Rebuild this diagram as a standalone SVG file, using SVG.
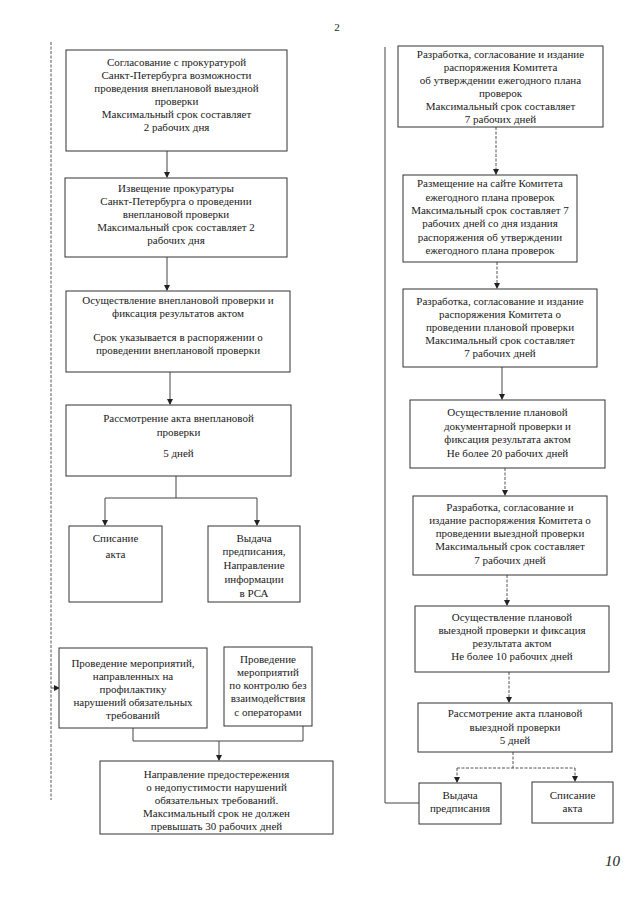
<svg xmlns="http://www.w3.org/2000/svg" width="640" height="905" viewBox="0 0 640 905">
<style>
.box{fill:#fff;stroke:#333;stroke-width:1}
.t{font-family:"Liberation Serif","Times New Roman",serif;font-size:11px;fill:#1a1a1a;text-anchor:middle}
.c{fill:none;stroke:#444;stroke-width:1}
.d{fill:none;stroke:#555;stroke-width:1;stroke-dasharray:3,1.5}
</style>
<defs>
<marker id="ah" markerWidth="6" markerHeight="6" refX="5" refY="3" orient="auto" markerUnits="userSpaceOnUse">
<path d="M0,0 L6,3 L0,6 Z" fill="#222"/>
</marker>
</defs>
<rect width="640" height="905" fill="#fff"/>
<text x="337" y="31" class="t" font-size="13">2</text>
<text x="605" y="866" style="font-family:'Liberation Serif',serif;font-size:15px;font-style:italic;fill:#222">10</text>

<g id="connectors">
<line class="c" x1="167" y1="151" x2="167" y2="177" marker-end="url(#ah)"/>
<line class="c" x1="167" y1="257" x2="167" y2="290" marker-end="url(#ah)"/>
<line class="c" x1="170" y1="372" x2="170" y2="404" marker-end="url(#ah)"/>
<polyline class="c" points="176,476 176,498"/>
<polyline class="c" points="105,498 257,498"/>
<line class="c" x1="105" y1="498" x2="105" y2="525" marker-end="url(#ah)"/>
<line class="c" x1="257" y1="498" x2="257" y2="525" marker-end="url(#ah)"/>
<polyline class="d" points="51,42 51,800"/>
<line class="d" x1="51" y1="688" x2="59" y2="688" marker-end="url(#ah)"/>
<polyline class="c" points="133,728 133,741 303,741 303,726"/>
<line class="c" x1="219" y1="741" x2="219" y2="760" marker-end="url(#ah)"/>
<polyline class="c" points="385,47 385,803 419,803"/>
<line class="d" x1="496" y1="127" x2="496" y2="174" marker-end="url(#ah)"/>
<line class="d" x1="497" y1="262" x2="497" y2="288" marker-end="url(#ah)"/>
<line class="c" x1="502" y1="367" x2="502" y2="399" marker-end="url(#ah)"/>
<line class="d" x1="505" y1="468" x2="505" y2="495" marker-end="url(#ah)"/>
<line class="d" x1="507" y1="575" x2="507" y2="605" marker-end="url(#ah)"/>
<line class="d" x1="509" y1="672" x2="509" y2="702" marker-end="url(#ah)"/>
<line class="d" x1="513" y1="752" x2="513" y2="768"/>
<line class="d" x1="457" y1="768" x2="575" y2="768"/>
<line class="d" x1="457" y1="768" x2="457" y2="782" marker-end="url(#ah)"/>
<line class="d" x1="575" y1="768" x2="575" y2="781" marker-end="url(#ah)"/>
</g>

<g id="n1"><rect class="box" x="66" y="50" width="221" height="101"/>
<text class="t"><tspan x="176.5" y="66">Согласование с прокуратурой</tspan><tspan x="176.5" y="79">Санкт-Петербурга возможности</tspan><tspan x="176.5" y="92">проведения внеплановой выездной</tspan><tspan x="176.5" y="105">проверки</tspan><tspan x="176.5" y="118">Максимальный срок составляет</tspan><tspan x="176.5" y="131">2 рабочих дня</tspan></text></g>

<g id="n2"><rect class="box" x="65" y="178" width="222" height="79"/>
<text class="t"><tspan x="176" y="192">Извещение прокуратуры</tspan><tspan x="176" y="205">Санкт-Петербурга о проведении</tspan><tspan x="176" y="218">внеплановой проверки</tspan><tspan x="176" y="231">Максимальный срок составляет 2</tspan><tspan x="176" y="244">рабочих дня</tspan></text></g>

<g id="n3"><rect class="box" x="66" y="291" width="224" height="81"/>
<text class="t"><tspan x="178" y="304">Осуществление внеплановой проверки и</tspan><tspan x="178" y="317">фиксация результатов актом</tspan><tspan x="178" y="341">Срок указывается в распоряжении о</tspan><tspan x="178" y="354">проведении внеплановой проверки</tspan></text></g>

<g id="n4"><rect class="box" x="66" y="405" width="225" height="71"/>
<text class="t"><tspan x="178.5" y="422">Рассмотрение акта внеплановой</tspan><tspan x="178.5" y="436">проверки</tspan><tspan x="178.5" y="457">5 дней</tspan></text></g>

<g id="n5"><rect class="box" x="69" y="526" width="93" height="76"/>
<text class="t"><tspan x="115.5" y="542">Списание</tspan><tspan x="115.5" y="558">акта</tspan></text></g>

<g id="n6"><rect class="box" x="208" y="526" width="92" height="76"/>
<text class="t"><tspan x="254" y="542">Выдача</tspan><tspan x="254" y="555">предписания,</tspan><tspan x="254" y="569">Направление</tspan><tspan x="254" y="583">информации</tspan><tspan x="254" y="597">в РСА</tspan></text></g>

<g id="n7"><rect class="box" x="59" y="648" width="148" height="80"/>
<text class="t"><tspan x="133" y="667">Проведение мероприятий,</tspan><tspan x="133" y="680">направленных на</tspan><tspan x="133" y="693">профилактику</tspan><tspan x="133" y="706">нарушений обязательных</tspan><tspan x="133" y="719">требований</tspan></text></g>

<g id="n8"><rect class="box" x="224" y="647" width="88" height="79"/>
<text class="t"><tspan x="268" y="663">Проведение</tspan><tspan x="268" y="676">мероприятий</tspan><tspan x="268" y="689">по контролю без</tspan><tspan x="268" y="702">взаимодействия</tspan><tspan x="268" y="716">с операторами</tspan></text></g>

<g id="n9"><rect class="box" x="100" y="761" width="233" height="73"/>
<text class="t"><tspan x="216.5" y="778">Направление предостережения</tspan><tspan x="216.5" y="791">о недопустимости нарушений</tspan><tspan x="216.5" y="804">обязательных требований.</tspan><tspan x="216.5" y="817">Максимальный срок не должен</tspan><tspan x="216.5" y="830">превышать 30 рабочих дней</tspan></text></g>

<g id="r1"><rect class="box" x="398" y="46" width="205" height="81"/>
<text class="t"><tspan x="500.5" y="58">Разработка, согласование и издание</tspan><tspan x="500.5" y="71">распоряжения Комитета</tspan><tspan x="500.5" y="84">об утверждении ежегодного плана</tspan><tspan x="500.5" y="97">проверок</tspan><tspan x="500.5" y="110">Максимальный срок составляет</tspan><tspan x="500.5" y="123">7 рабочих дней</tspan></text></g>

<g id="r2"><rect class="box" x="403" y="175" width="174" height="87"/>
<text class="t"><tspan x="490" y="187">Размещение на сайте Комитета</tspan><tspan x="490" y="201">ежегодного плана проверок</tspan><tspan x="490" y="214">Максимальный срок составляет 7</tspan><tspan x="490" y="227">рабочих дней со дня издания</tspan><tspan x="490" y="241">распоряжения об утверждении</tspan><tspan x="490" y="254">ежегодного плана проверок</tspan></text></g>

<g id="r3"><rect class="box" x="403" y="289" width="194" height="78"/>
<text class="t"><tspan x="500" y="305">Разработка, согласование и издание</tspan><tspan x="500" y="318">распоряжения Комитета о</tspan><tspan x="500" y="331">проведении плановой проверки</tspan><tspan x="500" y="344">Максимальный срок составляет</tspan><tspan x="500" y="357">7 рабочих дней</tspan></text></g>

<g id="r4"><rect class="box" x="410" y="400" width="195" height="68"/>
<text class="t"><tspan x="507.5" y="416">Осуществление плановой</tspan><tspan x="507.5" y="430">документарной проверки и</tspan><tspan x="507.5" y="443">фиксация результата актом</tspan><tspan x="507.5" y="457">Не более 20 рабочих дней</tspan></text></g>

<g id="r5"><rect class="box" x="413" y="496" width="194" height="79"/>
<text class="t"><tspan x="510" y="511">Разработка, согласование и</tspan><tspan x="510" y="524">издание распоряжения Комитета о</tspan><tspan x="510" y="537">проведении выездной проверки</tspan><tspan x="510" y="550">Максимальный срок составляет</tspan><tspan x="510" y="564">7 рабочих дней</tspan></text></g>

<g id="r6"><rect class="box" x="415" y="606" width="194" height="66"/>
<text class="t"><tspan x="512" y="621">Осуществление плановой</tspan><tspan x="512" y="634">выездной проверки и фиксация</tspan><tspan x="512" y="647">результата актом</tspan><tspan x="512" y="660">Не более 10 рабочих дней</tspan></text></g>

<g id="r7"><rect class="box" x="418" y="703" width="194" height="49"/>
<text class="t"><tspan x="515" y="717">Рассмотрение акта плановой</tspan><tspan x="515" y="731">выездной проверки</tspan><tspan x="515" y="744">5 дней</tspan></text></g>

<g id="r8"><rect class="box" x="419" y="783" width="82" height="41"/>
<text class="t"><tspan x="460" y="799">Выдача</tspan><tspan x="460" y="812">предписания</tspan></text></g>

<g id="r9"><rect class="box" x="532" y="782" width="81" height="41"/>
<text class="t"><tspan x="572.5" y="799">Списание</tspan><tspan x="572.5" y="812">акта</tspan></text></g>
</svg>
